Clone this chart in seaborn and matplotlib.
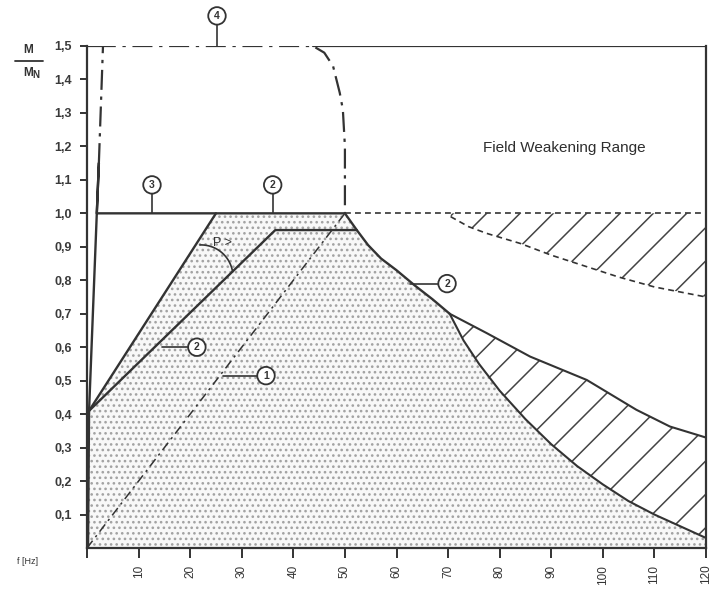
import numpy as np
import pandas as pd
import matplotlib
matplotlib.use("Agg")
import matplotlib.pyplot as plt
import seaborn as sns

# ---- chart data: frequency f [Hz] vs. torque ratio M/MN ----
x_ticks = [0, 10, 20, 30, 40, 50, 60, 70, 80, 90, 100, 110, 120]
x_tick_labels = ["", "10", "20", "30", "40", "50", "60", "70", "80", "90", "100", "110", "120"]
y_ticks = [0.1, 0.2, 0.3, 0.4, 0.5, 0.6, 0.7, 0.8, 0.9, 1.0, 1.1, 1.2, 1.3, 1.4, 1.5]
y_tick_labels = ["0,1", "0,2", "0,3", "0,4", "0,5", "0,6", "0,7", "0,8", "0,9",
                 "1,0", "1,1", "1,2", "1,3", "1,4", "1,5"]

# (1) self-ventilated motor, torque rising with frequency
line1_f = [0, 50]
line1_m = [0, 1.0]

# (3) rated torque, start-up branch and plateau
line3_f = [0.2, 0.4, 1.9, 2.3, 1.9, 25]
line3_m = [0.0, 0.41, 1.0, 1.15, 1.0, 1.0]

# (4) overload limit
line4_f = [2.3, 3.1, 43.8, 46, 47.7, 49.0, 49.6, 50, 50]
line4_m = [1.15, 1.5, 1.5, 1.48, 1.44, 1.36, 1.31, 1.2, 1.0]

# (2) outer limit curve
line2_outer_f = [0.4, 25, 50, 52.3, 54.5, 57, 60, 63.5, 67, 70.3]
line2_outer_m = [0.41, 1.0, 1.0, 0.95, 0.905, 0.865, 0.83, 0.785, 0.743, 0.70]

# (2) inner limit curve
line2_inner_f = [0.4, 36.5, 52.3]
line2_inner_m = [0.41, 0.95, 0.95]

# lower band in field weakening range
band_low_f = [70.3, 73, 76, 80, 85, 90, 95, 100, 105, 110, 115, 120]
band_low_m = [0.70, 0.62, 0.55, 0.47, 0.385, 0.31, 0.245, 0.19, 0.14, 0.10, 0.065, 0.03]
band_high_f = [70.3, 77.5, 85.9, 96.9, 106.5, 113, 120]
band_high_m = [0.70, 0.642, 0.572, 0.502, 0.413, 0.363, 0.33]

# upper band (dashed) in field weakening range
upper_top_f = [50, 120]
upper_top_m = [1.0, 1.0]
upper_low_f = [70.5, 74, 77.5, 84, 90, 97, 103, 110, 120]
upper_low_m = [0.99, 0.96, 0.94, 0.91, 0.875, 0.84, 0.81, 0.78, 0.75]

# circled curve labels: (text, circle x, circle y, leader x0, leader y0)
circle_labels = [
    ("1", 34.7, 0.515, 26.4, 0.515),
    ("2", 21.3, 0.60, 14.5, 0.60),
    ("3", 12.6, 1.085, 12.6, 1.0),
    ("2", 36.0, 1.085, 36.0, 1.0),
    ("4", 25.2, 1.59, 25.2, 1.5),
    ("2", 69.8, 0.79, 62.6, 0.79),
]

INK = "#333333"
DOT = "#a2a2a2"

sns.set_style("white")
plt.rcParams["font.family"] = ["Liberation Sans", "DejaVu Sans"]
plt.rcParams["hatch.linewidth"] = 1.1

fig = plt.figure(figsize=(7.17, 5.9), dpi=100)
ax = fig.add_axes([87 / 717, 42 / 590, 619 / 717, 502 / 590])
ax.set_xlim(0, 120)
ax.set_ylim(0, 1.5)

# stippled operating area
region_f = line2_outer_f + band_low_f[1:] + [120, 0, 0]
region_m = line2_outer_m + band_low_m[1:] + [0, 0, 0.41]
ax.fill(region_f, region_m, facecolor="#f8f8f8", edgecolor=DOT, hatch="...",
        linewidth=0, zorder=1)

# hatched bands
ax.fill(band_high_f + band_low_f[::-1], band_high_m + band_low_m[::-1],
        facecolor="white", edgecolor="#444444", hatch="/", linewidth=0, zorder=2)
ax.fill([upper_low_f[0], 120] + upper_low_f[::-1], [1.0, 1.0] + upper_low_m[::-1],
        facecolor="none", edgecolor="#444444", hatch="/", linewidth=0, zorder=2)


def draw(fx, my, lw=1.7, ls="-", z=4):
    df = pd.DataFrame({"f": fx, "m": my})
    sns.lineplot(data=df, x="f", y="m", ax=ax, sort=False, estimator=None,
                 color=INK, linewidth=lw, linestyle=ls, zorder=z)


draw(line1_f, line1_m, lw=1.1, ls=(0, (6, 3, 1.5, 3)))
draw(line3_f, line3_m)
draw(line4_f, line4_m, lw=1.6, ls=(0, (9, 3, 1.5, 3)))
draw(line2_outer_f, line2_outer_m)
draw(line2_inner_f, line2_inner_m)
draw(band_low_f, band_low_m, lw=1.5)
draw(band_high_f, band_high_m, lw=1.5)
draw(upper_top_f, upper_top_m, lw=1.2, ls=(0, (3.5, 2.5)))
draw(upper_low_f, upper_low_m, lw=1.2, ls=(0, (3.5, 2.5)))
# top frame pieces that are solid
draw([0, 3.1], [1.5, 1.5], lw=1.6)
draw([43.8, 120], [1.5, 1.5], lw=1.6)

# angle arc with "P >"
arc_cx, arc_cy, arc_r = 22.1, 0.810, 32.0  # centre in data, radius in pixels
t = np.radians(np.linspace(9, 92, 40))
ax.plot(arc_cx + arc_r * np.cos(t) / (619 / 120), arc_cy + arc_r * np.sin(t) / (502 / 1.5),
        color=INK, lw=1.2, zorder=4)
ax.text(26.3, 0.91, "P >", fontsize=9, color=INK, ha="center", va="center", zorder=5)

# circled labels with leaders
for txt, cx, cy, lx, ly in circle_labels:
    ax.plot([lx, cx], [ly, cy], color=INK, lw=1.2, zorder=5, clip_on=False)
    ax.text(cx, cy, txt, fontsize=7.5, fontweight="bold", color=INK, ha="center",
            va="center", zorder=6, clip_on=False,
            bbox=dict(boxstyle="circle,pad=0.36", fc="white", ec=INK, lw=1.3))

ax.text(92.6, 1.196, "Field Weakening Range", fontsize=11, color="#2e2e2e",
        ha="center", va="center")

# axes styling
for side in ["left", "bottom", "right"]:
    ax.spines[side].set_visible(True)
    ax.spines[side].set_color(INK)
    ax.spines[side].set_linewidth(1.6)
ax.spines["top"].set_visible(False)

ax.set_xticks(x_ticks)
ax.set_xticklabels(x_tick_labels, rotation=90, fontsize=8.5, color=INK)
ax.set_yticks(y_ticks)
ax.set_yticklabels(y_tick_labels, fontsize=9, fontweight="bold", color="#3a3a3a")
ax.tick_params(axis="x", direction="out", length=7, width=1.4, color=INK, pad=5, bottom=True)
ax.tick_params(axis="y", direction="out", length=5, width=1.4, color=INK, pad=6, left=True)
ax.set_xlabel("")
ax.set_ylabel("")
ax.grid(False)

# axis titles
fig.text(28 / 717, 1 - 50 / 590, "M", fontsize=8.5, fontweight="bold", color=INK,
         ha="center", va="center")
fig.add_artist(plt.Line2D([15 / 717, 43 / 717], [1 - 61 / 590, 1 - 61 / 590],
                          color=INK, lw=1.3))
fig.text(28 / 717, 1 - 73 / 590, "M", fontsize=8.5, fontweight="bold", color=INK,
         ha="center", va="center")
fig.text(36 / 717, 1 - 75 / 590, "N", fontsize=7, fontweight="bold", color=INK,
         ha="center", va="center")
fig.text(28 / 717, 1 - 562 / 590, "f [Hz]", fontsize=6.5, color=INK,
         ha="center", va="center")

fig.savefig("out.png", dpi=100, facecolor="white")
